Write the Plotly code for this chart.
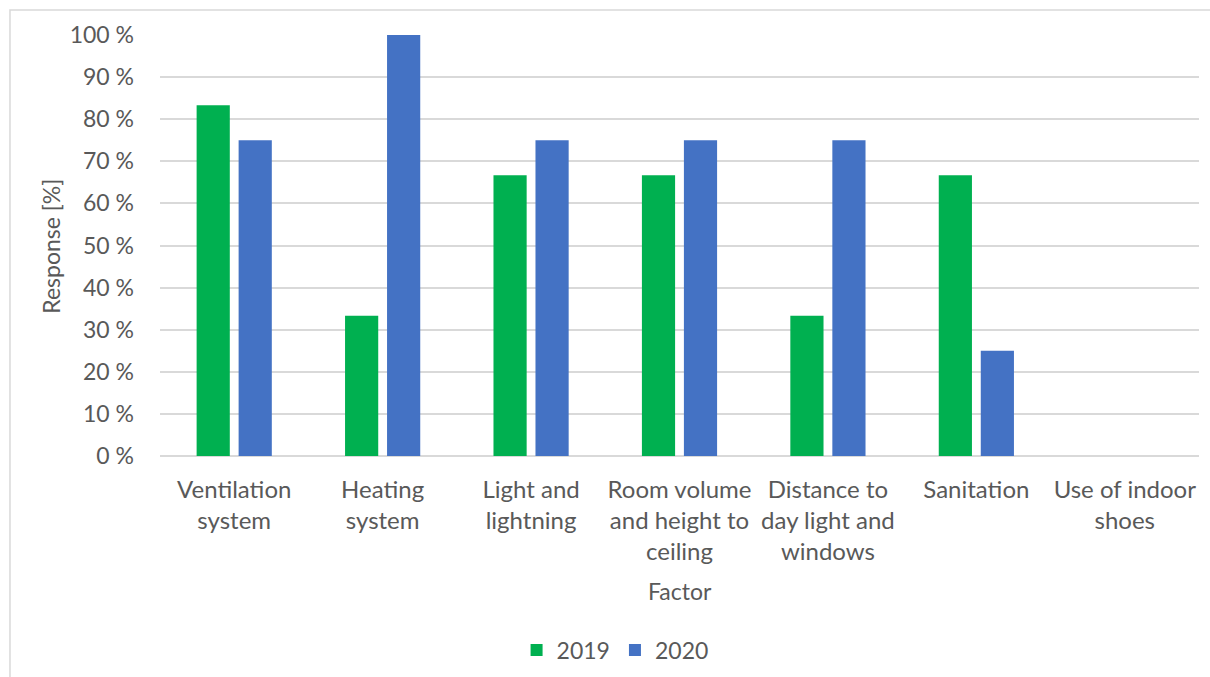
import plotly.graph_objects as go

categories = [
    "Ventilation<br>system",
    "Heating<br>system",
    "Light and<br>lightning",
    "Room volume<br>and height to<br>ceiling",
    "Distance to<br>day light and<br>windows",
    "Sanitation",
    "Use of indoor<br>shoes",
]
values_2019 = [83.33, 33.33, 66.67, 66.67, 33.33, 66.67, 0]
values_2020 = [75, 100, 75, 75, 75, 25, 0]
y_ticks = [0, 10, 20, 30, 40, 50, 60, 70, 80, 90, 100]
y_tick_labels = [f"{v} %" for v in y_ticks]

FONT = "Lato"
TXT = "#595959"
GRID = "#D9D9D9"

fig = go.Figure()
fig.add_trace(go.Bar(x=categories, y=values_2019, name="2019",
                     marker=dict(color="#00B050", line=dict(width=0))))
fig.add_trace(go.Bar(x=categories, y=values_2020, name="2020",
                     marker=dict(color="#4472C4", line=dict(width=0))))

fig.update_layout(
    width=1210, height=677,
    margin=dict(l=160, r=11, t=35, b=220.5, autoexpand=False),
    paper_bgcolor="white", plot_bgcolor="white",
    font=dict(family=FONT, color=TXT, size=23),
    barmode="group", bargap=0.434, bargroupgap=0.21,
    showlegend=True,
    legend=dict(orientation="h", x=0.438, xanchor="center", y=-0.461, yanchor="middle",
                font=dict(size=23, color=TXT), itemwidth=30, traceorder="normal"),
    xaxis=dict(showgrid=False, showline=False, ticks="", ticklabelstandoff=17,
               tickfont=dict(size=24, color=TXT)),
    yaxis=dict(range=[0, 100], tickvals=y_ticks, ticktext=y_tick_labels,
               showgrid=True, gridcolor=GRID, gridwidth=1.5,
               zeroline=True, zerolinecolor=GRID, zerolinewidth=1.5,
               showline=False, ticks="", ticklabelstandoff=25,
               tickfont=dict(size=23, color=TXT)),
    shapes=[dict(type="rect", xref="paper", yref="paper",
                 x0=-0.1444, x1=1.05, y0=-0.7, y1=1.0593,
                 line=dict(color=GRID, width=1.5), fillcolor="rgba(0,0,0,0)", layer="below")],
    annotations=[
        dict(text="Response [%]", xref="paper", yref="paper", x=(51 - 160) / 1039, y=(456.5 - 247) / 421.5,
             textangle=-90, showarrow=False, font=dict(size=23, color=TXT), xanchor="center", yanchor="middle"),
        dict(text="Factor", xref="paper", yref="paper", x=0.5, y=(456.5 - 592) / 421.5,
             showarrow=False, font=dict(size=23, color=TXT), xanchor="center", yanchor="middle"),
    ],
)

fig.write_html("out.html")
